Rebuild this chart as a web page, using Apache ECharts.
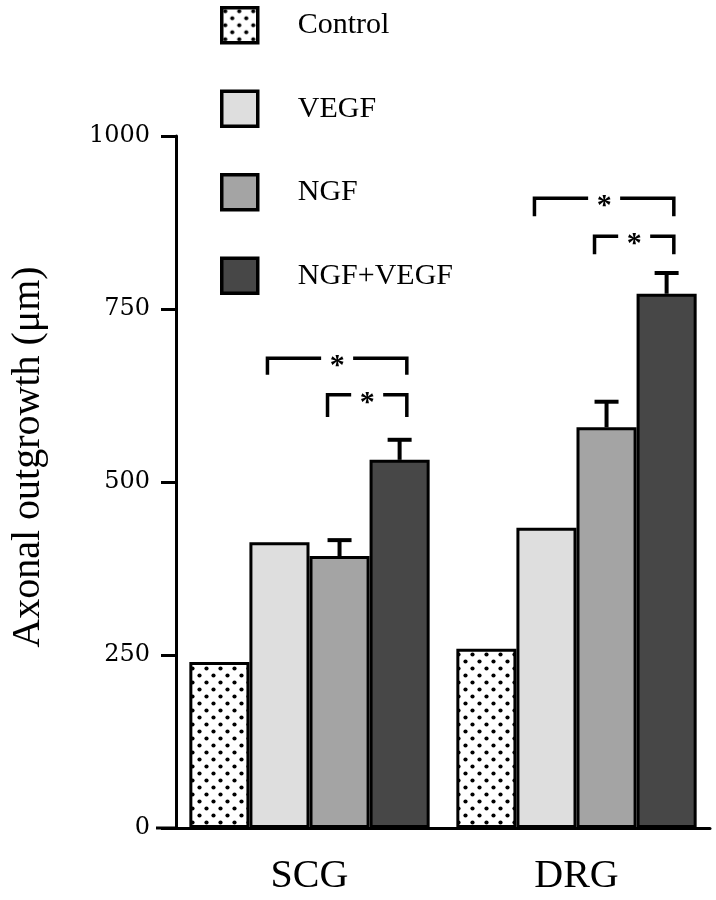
<!DOCTYPE html>
<html><head><meta charset="utf-8">
<script src="https://cdn.jsdelivr.net/npm/echarts@6/dist/echarts.min.js"></script>
<style>html,body{margin:0;padding:0;background:#fff}#c{width:716px;height:900px}</style>
</head><body><div id="c"></div>
<script>
// ---- data ----
const categories = ['SCG', 'DRG'];
const seriesNames = ['Control', 'VEGF', 'NGF', 'NGF+VEGF'];
const controlValues = [240, 259];
const vegfValues = [413, 434];
const ngfValues = [393, 579];
const ngfVegfValues = [532, 772];
const ngfErrors = [23, 37];
const ngfVegfErrors = [29, 30];
const yTickValues = [0, 250, 500, 750, 1000];
// significance brackets: [categoryIndex, fromSeriesIndex, toSeriesIndex, topValue, legEndValue, label]
const brackets = [
  [0, 1, 3, 679, 655, '*'],
  [0, 2, 3, 626, 594, '*'],
  [1, 1, 3, 910, 884, '*'],
  [1, 2, 3, 855, 829, '*']
];

// ---- styles ----
function dotPattern() {
  const c = document.createElement('canvas');
  c.width = 14; c.height = 14;
  const g = c.getContext('2d');
  g.fillStyle = '#fff'; g.fillRect(0, 0, 14, 14);
  g.fillStyle = '#000';
  [[3.5, 3.5], [10.5, 10.5]].forEach(p => { g.beginPath(); g.arc(p[0], p[1], 2.1, 0, Math.PI * 2); g.fill(); });
  return c;
}
const colors = [{ image: dotPattern(), repeat: 'repeat' }, '#dedede', '#a4a4a4', '#474747'];
const valueSets = [controlValues, vegfValues, ngfValues, ngfVegfValues];
const CAT_GAP = 0.1;

function barCenter(api, cat, si) {
  const band = api.size([1, 0])[0];
  const bw = band * (1 - CAT_GAP) / 4;
  return { x: api.coord([cat, 0])[0] + (si - 1.5) * bw, bw: bw };
}

const errorData = [];
categories.forEach((c, i) => {
  errorData.push([i, 2, ngfValues[i], ngfErrors[i]]);
  errorData.push([i, 3, ngfVegfValues[i], ngfVegfErrors[i]]);
});

const chart = echarts.init(document.getElementById('c'), null, { renderer: 'canvas' });
const serif = '"Liberation Serif", "Times New Roman", serif';

const barSeries = seriesNames.map((n, i) => ({
  name: n,
  type: 'bar',
  data: valueSets[i],
  barGap: '0%',
  barCategoryGap: (CAT_GAP * 100) + '%',
  itemStyle: { color: colors[i], borderColor: '#000', borderWidth: 3 },
  z: 2
}));

const option = {
  animation: false,
  backgroundColor: '#fff',
  grid: { left: 173, right: 6, top: 136, bottom: 72, containLabel: false },
  legend: {
    orient: 'vertical', left: 215, top: 1,
    itemWidth: 36, itemHeight: 35, itemGap: 45,
    icon: 'rect', selectedMode: false,
    data: seriesNames,
    itemStyle: { borderColor: '#000', borderWidth: 3.5 },
    textStyle: { fontSize: 30, fontFamily: serif, color: '#000', padding: [0, 0, 0, 35] }
  },
  xAxis: {
    type: 'category', data: categories,
    axisLine: { lineStyle: { color: '#000', width: 3 } },
    axisTick: { alignWithLabel: true, length: 18, lineStyle: { color: '#000', width: 3 } },
    axisLabel: { fontSize: 40, fontFamily: serif, color: '#000', margin: 28 }
  },
  yAxis: {
    type: 'value', min: 0, max: 1000, interval: 250,
    name: 'Axonal outgrowth (\u03bcm)', nameLocation: 'middle', nameGap: 128,
    nameTextStyle: { fontSize: 40, fontFamily: serif, color: '#000', padding: [0, 0, 0, 50] },
    splitLine: { show: false },
    axisLine: { show: true, lineStyle: { color: '#000', width: 3 } },
    axisTick: { show: true, length: 15, lineStyle: { color: '#000', width: 3 } },
    axisLabel: { fontSize: 24, fontFamily: '"DejaVu Serif", serif', color: '#000', margin: 26,
      formatter: v => yTickValues.indexOf(v) >= 0 ? String(v) : '' }
  },
  series: barSeries.concat([
    {
      type: 'custom', name: 'errors', data: errorData, encode: { x: 0, y: 2 }, z: 5,
      renderItem: function (params, api) {
        const cat = api.value(0), si = api.value(1), v = api.value(2), e = api.value(3);
        const x = barCenter(api, cat, si).x;
        const yTop = api.coord([cat, v])[1];
        const yCap = api.coord([cat, v + e])[1];
        return { type: 'group', children: [
          { type: 'line', shape: { x1: x, y1: yTop, x2: x, y2: yCap }, style: { stroke: '#000', lineWidth: 4 } },
          { type: 'line', shape: { x1: x - 12, y1: yCap, x2: x + 12, y2: yCap }, style: { stroke: '#000', lineWidth: 4 } }
        ] };
      }
    },
    {
      type: 'custom', name: 'brackets', data: brackets.map(b => [b[0], b[1], b[3], b[2], b[4]]),
      encode: { x: 0, y: 2 }, z: 5,
      renderItem: function (params, api) {
        const cat = api.value(0), a = api.value(1), top = api.value(2), b = api.value(3), leg = api.value(4);
        const ca = barCenter(api, cat, a), cb = barCenter(api, cat, b);
        const x1 = ca.x - 0.2 * ca.bw, x2 = cb.x + 0.12 * cb.bw;
        const yT = api.coord([cat, top])[1], yL = api.coord([cat, leg])[1];
        const xm = (x1 + x2) / 2, gap = 16;
        const st = { stroke: '#000', lineWidth: 3.5, fill: null, lineJoin: 'miter', lineCap: 'butt' };
        return { type: 'group', children: [
          { type: 'polyline', shape: { points: [[x1, yL], [x1, yT], [xm - gap, yT]] }, style: st },
          { type: 'polyline', shape: { points: [[xm + gap, yT], [x2, yT], [x2, yL]] }, style: st },
          { type: 'text', style: { text: brackets[params.dataIndex][5], x: xm, y: yT + 8,
            font: 'bold 30px "Liberation Serif"', fill: '#000', align: 'center', verticalAlign: 'middle' } }
        ] };
      }
    }
  ])
};
chart.setOption(option);

// extend the baseline slightly left of the value axis, as in the original
const y0 = chart.convertToPixel({ yAxisIndex: 0 }, 0);
const xLeft = chart.convertToPixel({ xAxisIndex: 0 }, 0) - chart.getModel().getComponent('xAxis', 0).axis.getBandWidth() / 2;
chart.setOption({ graphic: [{ type: 'line', shape: { x1: xLeft - 20, y1: y0, x2: xLeft, y2: y0 }, style: { stroke: '#000', lineWidth: 3 }, z: 10 }] });
</script>
</body></html>
